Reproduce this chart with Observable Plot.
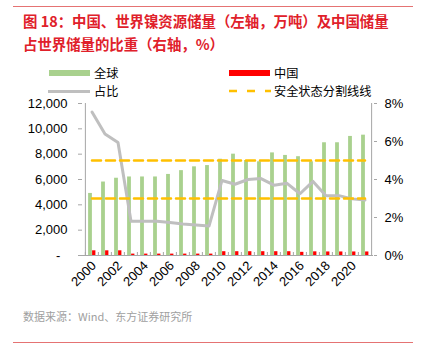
<!DOCTYPE html>
<html><head><meta charset="utf-8">
<script src="https://cdn.jsdelivr.net/npm/d3@7"></script>
<script src="https://cdn.jsdelivr.net/npm/@observablehq/plot@0.6"></script>
<style>
body{margin:0;background:#fff;}
#wrap{position:relative;width:427px;height:359px;overflow:hidden;font-family:"Liberation Sans",Arial,"Noto Sans CJK SC",sans-serif;}
.hr{position:absolute;left:13px;width:400px;height:1px;background:#E57373;}
#title{position:absolute;left:23px;top:9px;font-family:"Noto Sans CJK SC",sans-serif;font-weight:bold;font-size:14.4px;line-height:23px;color:#E0202A;white-space:nowrap;}
.lg{position:absolute;font-family:"Noto Sans CJK SC",sans-serif;font-size:12.2px;line-height:14px;height:14px;color:#000;white-space:nowrap;}
.sw{position:absolute;}
#src{position:absolute;left:23px;top:308px;font-family:"Noto Sans CJK SC",sans-serif;font-size:11px;color:#A0A0A0;white-space:nowrap;}
#chart{position:absolute;left:0;top:95px;}
</style></head><body>
<div id="wrap">
  <div class="hr" style="top:6px"></div>
  <div id="title">图 18：中国、世界镍资源储量（左轴，万吨）及中国储量<br>占世界储量的比重（右轴，%）</div>
  <div class="sw" style="left:49px;top:70px;width:41px;height:6px;background:#A9D18E"></div>
  <div class="lg" style="left:94px;top:66px">全球</div>
  <div class="sw" style="left:229px;top:70px;width:41px;height:6px;background:#FF0000"></div>
  <div class="lg" style="left:274px;top:66px">中国</div>
  <div class="sw" style="left:48px;top:90px;width:42px;height:3px;background:#BFBFBF"></div>
  <div class="lg" style="left:94px;top:84px">占比</div>
  <svg class="sw" style="left:229px;top:88px" width="42" height="6"><line x1="0" y1="3" x2="42" y2="3" stroke="#FFC000" stroke-width="2.5" stroke-dasharray="8,10"/></svg>
  <div class="lg" style="left:274px;top:84px">安全状态分割线线</div>
  <div id="chart"></div>
  <div id="src">数据来源：Wind、东方证券研究所</div>
  <div class="hr" style="top:342px"></div>
</div>
<script>
const years = [2000,2001,2002,2003,2004,2005,2006,2007,2008,2009,2010,2011,2012,2013,2014,2015,2016,2017,2018,2019,2020,2021];
const world = [4900,5800,6100,6200,6200,6200,6400,6700,7000,7100,7600,8000,7500,7400,8100,7900,7800,7400,8900,8900,9400,9500];
const china = [370,370,370,110,110,110,110,110,110,110,300,300,300,300,300,300,250,290,280,280,280,280];
const ratio = [7.55,6.4,5.95,1.8,1.8,1.8,1.74,1.66,1.6,1.55,3.95,3.75,4.0,4.05,3.7,3.8,3.25,3.9,3.15,3.15,2.98,2.92];
const safety = [5, 3];
const leftTicks = [0,2000,4000,6000,8000,10000,12000];
const rightTicks = [0,2,4,6,8];
const xLabels = years.filter(y => y % 2 === 0);

const K = 12000 / 8;
const data = years.map((y, i) => ({year: y, world: world[i], china: china[i], ratio: ratio[i]}));
const W = 427, H = 210, mL = 82, mR = 54, mT = 8, mB = 50;
const step = (W - mL - mR) / years.length;
const tickLen = 3 * 12000 / (H - mT - mB);
const axisColor = "#A6A6A6";

const marks = [
  Plot.barY(data, {x: "year", y: "world", fill: "#A9D18E", insetLeft: 3.1, insetRight: 6.1}),
  Plot.barY(data, {x: "year", y: "china", fill: "#FF0000", insetLeft: 7.1, insetRight: 2.6}),
  Plot.ruleY([0], {stroke: axisColor}),
  Plot.ruleX(years, {x: d => d, dx: -step / 2, y1: 0, y2: tickLen, stroke: axisColor}),
  Plot.ruleX([years[years.length - 1]], {x: d => d, dx: step / 2, y1: 0, y2: 12000, stroke: axisColor}),
  Plot.ruleX([years[0]], {x: d => d, dx: -step / 2, y1: 0, y2: 12000, stroke: axisColor}),
  Plot.lineY(data, {x: "year", y: d => d.ratio * K, stroke: "#BFBFBF", strokeWidth: 3}),
  ...safety.map(s => Plot.lineY(years, {x: d => d, y: () => s * K, stroke: "#FFC000", strokeWidth: 2.5, strokeDasharray: "9,5"})),
  Plot.axisY({anchor: "left", ticks: leftTicks, tickFormat: d => d === 0 ? "-\u00a0\u00a0" : d3.format(",")(d), tickSize: 4, tickPadding: 11, stroke: axisColor, fill: "#000", label: null}),
  Plot.axisY({anchor: "right", ticks: rightTicks.map(v => v * K), tickFormat: d => (d / K) + "%", tickSize: 3, tickPadding: 8, stroke: axisColor, fill: "#000", label: null}),
  Plot.axisX({ticks: xLabels, tickFormat: d => String(d), tickSize: 0, tickRotate: -45, tickPadding: 8, dx: 2, fill: "#000", label: null})
];

const chart = Plot.plot({
  width: W, height: H, marginTop: mT, marginBottom: mB, marginLeft: mL, marginRight: mR,
  x: {type: "band", domain: years, padding: 0},
  y: {domain: [0, 12000]},
  style: {fontFamily: '"Liberation Sans", Arial, sans-serif', fontSize: "13px", color: "#000", background: "transparent", overflow: "visible"},
  marks
});
document.getElementById("chart").appendChild(chart);
</script>
</body></html>
